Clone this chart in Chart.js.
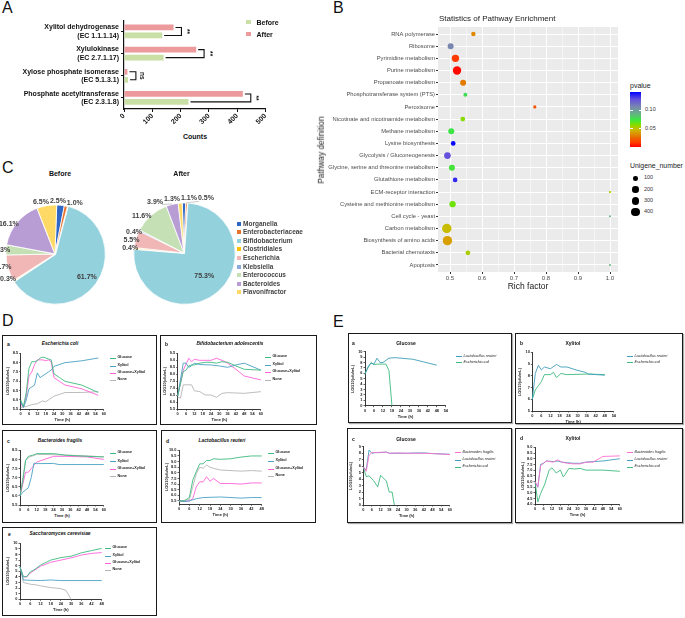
<!DOCTYPE html>
<html>
<head>
<meta charset="utf-8">
<script src="https://cdn.jsdelivr.net/npm/chart.js@4.4.1/dist/chart.umd.min.js"></script>
<style>
body { margin: 0; background: #fff; font-family: "Liberation Sans", Arial, sans-serif; }
#wrap { position: relative; width: 685px; height: 618px; overflow: hidden; background: #fff; }
.abs { position: absolute; white-space: nowrap; line-height: 1; }
canvas { position: absolute; }
</style>
</head>
<body>
<div id="wrap"></div>
<script>
// ---------- A: enzyme counts ----------
const enzymes = [['Xylitol dehydrogenase', '(EC 1.1.1.14)'], ['Xylulokinase', '(EC 2.7.1.17)'],
                 ['Xylose phosphate isomerase', '(EC 5.1.3.1)'], ['Phosphate acetyltransferase', '(EC 2.3.1.8)']]
const countsAfter = [175, 255, 12, 420]
const countsBefore = [135, 140, 14, 228]
const sigMarks = ['**', '**', 'ns', '**']
const countTicks = [0, 100, 200, 300, 400, 500]

// ---------- B: pathway enrichment ----------
const pathways = ['RNA polymerase', 'Ribosome', 'Pyrimidine metabolism', 'Purine metabolism', 'Propanoate metabolism',
  'Phosphotransferase system (PTS)', 'Peroxisome', 'Nicotinate and nicotinamide metabolism', 'Methane metabolism',
  'Lysine biosynthesis', 'Glycolysis / Gluconeogenesis', 'Glycine, serine and threonine metabolism',
  'Glutathione metabolism', 'ECM-receptor interaction', 'Cysteine and methionine metabolism', 'Cell cycle - yeast',
  'Carbon metabolism', 'Biosynthesis of amino acids', 'Bacterial chemotaxis', 'Apoptosis']
const richFactor = [0.573, 0.502, 0.517, 0.522, 0.541, 0.548, 0.765, 0.540, 0.504, 0.510,
                    0.492, 0.506, 0.516, 1.0, 0.508, 1.0, 0.490, 0.492, 0.556, 1.0]
const pValue = [0.033, 0.11, 0.012, 0.002, 0.03, 0.078, 0.02, 0.06, 0.075, 0.148,
                0.13, 0.073, 0.14, 0.055, 0.064, 0.09, 0.048, 0.04, 0.055, 0.09]
const unigeneNum = [86, 176, 281, 373, 176, 70, 45, 101, 176, 101, 225, 176, 101, 21, 196, 17, 477, 471, 101, 17]
const sizeLegend = [100, 200, 300, 400]
const pTicks = [0.05, 0.10]

// ---------- C: genus composition (%) ----------
const genera = ['Morganella', 'Enterobacteriaceae', 'Bifidobacterium', 'Clostridiales', 'Escherichia',
                'Klebsiella', 'Enterococcus', 'Bacteroides', 'Flavonifractor']
const pctBefore = [2.5, 1.0, 61.7, 0.3, 8.7, 0, 3.3, 16.1, 6.5]
const pctAfter = [1.1, 0.5, 75.3, 0.4, 5.5, 0.4, 11.6, 3.9, 1.3]

// ---------- D: monocultures, [time h, LOG10 cfu/mL] ----------
const dSeries = ['Glucose', 'Xylitol', 'Glucose+Xylitol', 'None']
const ecGlu = [[0,6.0],[2,5.65],[4,6.4],[6,7.7],[8,8.05],[10,8.05],[12,8.1],[14,8.25],[16,8.3],[18,8.25],[20,8.2],[22,8.15],[24,7.4],[28,7.2],[32,7.0],[44,6.8],[56,6.4]]
const ecXyl = [[0,5.9],[2,5.6],[4,6.0],[6,6.6],[8,6.7],[10,6.8],[12,7.45],[14,7.2],[16,7.3],[18,7.4],[20,7.5],[22,7.6],[24,7.8],[32,8.0],[44,8.1],[56,8.25]]
const ecGX = [[0,5.8],[2,5.6],[4,6.2],[6,7.3],[8,7.5],[10,7.9],[12,8.15],[14,8.15],[16,8.15],[18,8.1],[20,8.15],[22,8.05],[24,7.2],[28,7.0],[32,6.8],[44,6.6],[56,6.25]]
const ecNone = [[0,5.6],[4,5.65],[8,5.75],[12,5.8],[16,5.95],[18,5.9],[20,6.0],[24,6.2],[28,6.3],[32,6.4],[44,6.4],[56,6.45]]

const bfGlu = [[0,6.45],[4,8.2],[6,8.3],[8,8.6],[10,8.67],[12,8.67],[16,8.8],[20,8.86],[24,8.86],[28,8.8],[32,8.9],[36,8.86],[42,8.6],[48,8.36],[60,8.3]]
const bfXyl = [[0,6.45],[4,8.8],[6,8.8],[8,8.5],[10,8.6],[12,8.8],[16,8.7],[24,8.67],[30,8.6],[36,8.5],[42,8.67],[48,8.8],[60,8.3]]
const bfGX = [[0,6.45],[4,8.3],[8,9.15],[10,8.9],[12,9.07],[16,9.0],[24,9.0],[28,9.15],[32,9.0],[36,8.8],[42,8.36],[48,7.88],[60,7.6]]
const bfNone = [[0,6.35],[2,6.3],[4,7.25],[6,7.25],[10,7.25],[12,6.83],[16,6.76],[20,6.52],[24,6.52],[28,6.36],[32,6.64],[36,6.69],[48,6.64],[60,6.76]]

const frGlu = [[0,6.0],[2,6.8],[4,7.95],[6,8.17],[9,8.23],[12,8.32],[24,8.32],[33,8.23],[48,8.17],[60,8.14]]
const frXyl = [[0,6.0],[2,6.2],[6,6.45],[8,7.0],[10,7.8],[12,7.77],[24,7.78],[28,7.72],[60,7.72]]
const frGX = [[0,6.0],[4,7.3],[6,7.3],[8,7.5],[12,7.86],[24,8.17],[33,8.17],[48,8.14],[60,8.0]]
const frNone = [[0,6.0],[4,7.95],[7,8.14],[12,8.28],[24,8.26],[48,8.2],[60,8.14]]

const reGlu = [[0,5.5],[3,5.5],[6,5.8],[8,7.35],[10,8.1],[12,8.8],[14,8.8],[16,9.1],[18,9.1],[20,9.25],[24,9.2],[30,9.25],[36,9.4],[42,9.5],[48,9.5]]
const reXyl = [[0,5.5],[3,5.45],[6,5.5],[10,5.7],[14,5.8],[24,5.85],[36,5.75],[42,5.8],[48,5.8]]
const reGX = [[0,5.5],[3,5.45],[6,5.5],[8,5.7],[10,6.75],[12,7.2],[14,7.2],[16,7.65],[18,7.25],[20,7.5],[24,7.05],[30,7.05],[36,7.0],[42,7.1],[48,7.1]]
const reNone = [[0,5.5],[6,5.6],[8,6.75],[10,7.9],[12,8.5],[14,8.4],[16,8.7],[18,8.5],[20,8.4],[24,8.25],[36,8.15],[42,8.2],[48,8.15]]

const scGlu = [[0,5.8],[2,4.05],[4,4.05],[6,4.9],[8,5.2],[12,6.1],[18,7.0],[24,7.45],[30,7.7],[36,8.3],[42,8.7],[48,9.1]]
const scXyl = [[0,5.8],[2,3.45],[6,3.4],[12,3.35],[18,3.45],[24,3.35],[48,3.35]]
const scGX = [[0,5.8],[2,4.0],[4,4.0],[6,4.7],[12,5.9],[18,6.6],[24,7.0],[30,7.4],[36,7.9],[42,8.2],[48,8.35]]
const scNone = [[0,5.8],[2,3.0],[6,2.7],[10,2.55],[12,2.4],[18,2.1],[24,1.9],[27,1.6],[30,0]]

// ---------- E: co-cultures ----------
const gaReuteri = [[0,5.8],[2,7.2],[4,7.9],[6,7.7],[8,8.8],[10,8.0],[12,8.0],[14,8.4],[16,8.8],[20,8.9],[24,8.8],[32,8.6],[48,7.5]]
const gaEcoli = [[0,6.0],[2,7.0],[4,8.0],[6,7.6],[8,7.7],[10,7.7],[12,7.7],[14,7.7],[16,6.5],[18,0]]
const xbReuteri = [[0,6.0],[2,8.2],[4,8.9],[6,8.5],[8,8.75],[12,8.6],[16,8.97],[19,8.75],[23,8.75],[29,8.5],[35,8.3],[37,8.15],[48,8.05]]
const xbEcoli = [[0,6.0],[2,6.8],[4,7.15],[6,7.5],[8,8.1],[12,8.1],[14,8.3],[16,7.85],[19,8.2],[23,8.1],[37,8.15],[48,8.1]]
const gcFragilis = [[0,5.9],[2,5.2],[4,7.7],[6,8.1],[8,8.1],[12,8.15],[16,8.15],[18,8.0],[24,8.05],[30,8.0],[36,8.0],[42,8.0],[48,7.95],[60,7.8]]
const gcReuteri = [[0,5.9],[2,5.4],[4,8.5],[6,8.0],[8,8.1],[12,8.1],[16,8.2],[18,8.0],[24,8.0],[30,8.0],[36,8.05],[42,8.05],[48,7.95],[60,7.85]]
const gcEcoli = [[0,5.9],[2,4.4],[4,4.5],[7,3.8],[10,2.8],[12,4.6],[16,3.7],[18,2.0],[20,2.0],[21.5,0]]
const xdFragilis = [[0,6.0],[2,5.5],[4,7.4],[6,7.6],[8,7.8],[13,7.7],[16,7.9],[19,7.7],[23,7.6],[27,7.55],[32,7.55],[36,7.7],[41,7.7],[48,8.2],[60,8.25]]
const xdReuteri = [[0,6.0],[2,5.5],[4,7.5],[6,7.6],[8,7.8],[13,7.75],[16,7.8],[19,7.7],[23,7.65],[27,7.6],[32,7.6],[36,7.7],[41,7.75],[48,7.8],[60,8.0]]
const xdEcoli = [[0,6.0],[2,4.2],[4,4.95],[7,5.8],[10,7.0],[12,7.2],[15,6.75],[18,7.0],[20,6.4],[21,6.55],[24,7.15],[28,7.1],[32,7.15],[36,7.0],[41,7.0],[48,7.0],[60,6.9]]

// ---------- helpers ----------
const wrap = document.getElementById('wrap')
const FONT = '"Liberation Sans", Arial, sans-serif'

function txt(s, x, y, css, al) {
  const d = document.createElement('div')
  d.className = 'abs'
  d.textContent = s
  d.style.cssText += css
  d.style.left = x + 'px'
  d.style.top = y + 'px'
  d.style.transform = `translate(${al == 'c' ? '-50%' : al == 'r' ? '-100%' : '0'},-50%)`
  wrap.appendChild(d)
  return d
}
function rect(x, y, w, h, css) {
  const d = document.createElement('div')
  d.style.cssText = `position:absolute;left:${x}px;top:${y}px;width:${w}px;height:${h}px;` + css
  wrap.appendChild(d)
  return d
}
function addCanvas(x, y, w, h) {
  const c = document.createElement('canvas')
  c.width = w; c.height = h
  c.style.left = x + 'px'; c.style.top = y + 'px'
  wrap.appendChild(c)
  return c
}
// canvas around a wanted plot rectangle
function frame(g, padL, padT, padR, padB) {
  const cl = Math.floor(g.l - padL), ct = Math.floor(g.t - padT)
  const cw = Math.ceil(g.r + padR) - cl, ch = Math.ceil(g.b + padB) - ct
  return {cv: addCanvas(cl, ct, cw, ch), yw: g.l - cl, top: g.t - ct, right: cl + cw - g.r, xh: ct + ch - g.b}
}
const base = {animation: false, responsive: false, events: [],
              plugins: {legend: {display: false}, tooltip: {enabled: false}}}
const pairs = arr => arr.map(p => ({x: p[0], y: p[1]}))

// ---------- panel letters ----------
;[['A', 2, 8], ['B', 333, 8], ['C', 2, 168], ['D', 2, 321], ['E', 333, 322]].forEach(l =>
  txt(l[0], l[1], l[2], 'font-size:16px;color:#111;', 'l'))

// ---------- A ----------
{
  const g = {l: 124, t: 15, r: 265.5, b: 109}
  const f = frame(g, 124, 5, 14, 22)
  const brackets = {
    id: 'brackets',
    afterDatasetsDraw(chart) {
      const c = chart.ctx, xs = chart.scales.x
      const ma = chart.getDatasetMeta(0), mb = chart.getDatasetMeta(1)
      c.save()
      c.strokeStyle = '#111'; c.lineWidth = 1.1
      enzymes.forEach((e, i) => {
        const ya = ma.data[i].y, yb = mb.data[i].y
        const xa = xs.getPixelForValue(countsAfter[i]) + 2, xb = xs.getPixelForValue(countsBefore[i]) + 2
        const xk = xs.getPixelForValue(Math.max(countsAfter[i], countsBefore[i]) + 28)
        c.beginPath(); c.moveTo(xa, ya); c.lineTo(xk, ya); c.lineTo(xk, yb); c.lineTo(xb, yb); c.stroke()
        c.save()
        c.translate(xk + 5.5, (ya + yb) / 2); c.rotate(Math.PI / 2)
        c.fillStyle = '#111'; c.font = 'bold 6.5px ' + FONT; c.textAlign = 'center'; c.textBaseline = 'middle'
        c.fillText(sigMarks[i], 0, 0)
        c.restore()
      })
      c.restore()
    }
  }
  new Chart(f.cv, {
    type: 'bar',
    data: {
      labels: enzymes,
      datasets: [
        {label: 'After', data: countsAfter, backgroundColor: '#ec9a9b', categoryPercentage: 0.72, barPercentage: 0.72},
        {label: 'Before', data: countsBefore, backgroundColor: '#cadfa6', categoryPercentage: 0.72, barPercentage: 0.72}
      ]
    },
    options: {
      ...base, indexAxis: 'y',
      layout: {padding: {top: f.top, right: f.right, left: 0, bottom: 0}},
      scales: {
        x: {min: 0, max: 500, afterFit: s => { s.height = f.xh },
            afterBuildTicks: s => { s.ticks = countTicks.map(v => ({value: v})) },
            ticks: {font: {family: FONT, size: 7, weight: 'bold'}, color: '#111', minRotation: 45, maxRotation: 45, padding: 0, autoSkip: false},
            grid: {drawOnChartArea: false, tickLength: 3, color: '#111'}, border: {color: '#111', width: 1.2}},
        y: {afterFit: s => { s.width = f.yw },
            ticks: {font: {family: FONT, size: 7, weight: 'bold'}, color: '#111', padding: 2},
            grid: {drawOnChartArea: false, tickLength: 3, color: '#111', offset: false}, border: {color: '#111', width: 1.2}}
      }
    },
    plugins: [brackets]
  })
  txt('Counts', 195, 136, 'font-size:7px;font-weight:bold;color:#111;', 'c')
  rect(246, 19.5, 5, 4, 'background:#cadfa6;')
  txt('Before', 256.5, 21.5, 'font-size:7px;font-weight:bold;color:#111;', 'l')
  rect(246, 32.3, 5, 4, 'background:#ec9a9b;')
  txt('After', 256.5, 34.3, 'font-size:7px;font-weight:bold;color:#111;', 'l')
}

// ---------- B ----------
const pStops = [[0, [255, 0, 0]], [0.012, [255, 60, 0]], [0.022, [240, 90, 0]], [0.032, [225, 130, 0]],
  [0.04, [215, 160, 0]], [0.048, [200, 188, 0]], [0.055, [170, 205, 0]], [0.062, [120, 225, 0]],
  [0.075, [60, 228, 70]], [0.09, [100, 180, 130]], [0.11, [120, 135, 175]], [0.13, [100, 80, 220]], [0.15, [0, 0, 255]]]
function pColor(p) {
  for (let i = 1; i < pStops.length; i++) {
    if (p <= pStops[i][0]) {
      const [p0, c0] = pStops[i - 1], [p1, c1] = pStops[i], t = (p - p0) / (p1 - p0)
      return `rgb(${c0.map((v, k) => Math.round(v + (c1[k] - v) * t)).join(',')})`
    }
  }
  return 'rgb(0,0,255)'
}
const bubbleR = n => 0.5 + 4.3 * Math.sqrt(Math.max(n - 10, 0) / 490)
{
  const g = {l: 438, t: 27, r: 618, b: 272}
  const f = frame(g, 138, 5, 12, 10)
  const panelBg = {
    id: 'panelBg',
    beforeDraw(chart) {
      const a = chart.chartArea
      chart.ctx.save(); chart.ctx.fillStyle = '#ebebeb'; chart.ctx.fillRect(a.left, a.top, a.width, a.height); chart.ctx.restore()
    }
  }
  const major = v => Math.abs(v * 10 - Math.round(v * 10)) < 1e-6
  new Chart(f.cv, {
    type: 'bubble',
    data: {datasets: [{
      data: richFactor.map((x, i) => ({x: x, y: i, r: bubbleR(unigeneNum[i])})),
      backgroundColor: pValue.map(pColor), borderWidth: 0, clip: false
    }]},
    options: {
      ...base,
      layout: {padding: {top: f.top, right: f.right, left: 0, bottom: 0}},
      scales: {
        x: {type: 'linear', min: 0.4625, max: 1.025, afterFit: s => { s.height = f.xh },
            ticks: {stepSize: 0.05, includeBounds: false, autoSkip: false, maxRotation: 0, padding: 1,
                    callback: v => major(v) ? v.toFixed(1) : '', font: {family: FONT, size: 6}, color: '#4d4d4d'},
            grid: {color: '#fff', lineWidth: c => major(c.tick.value) ? 1 : 0.5,
                   tickColor: c => major(c.tick.value) ? '#333' : 'rgba(0,0,0,0)', tickLength: 2},
            border: {display: false}},
        y: {type: 'linear', reverse: true, min: -0.58, max: 19.58, afterFit: s => { s.width = f.yw },
            ticks: {stepSize: 1, includeBounds: false, autoSkip: false, padding: 1,
                    callback: v => pathways[v] ?? '', font: {family: FONT, size: 5.8}, color: '#4d4d4d'},
            grid: {color: '#fff', lineWidth: 1, tickColor: '#333', tickLength: 2},
            border: {display: false}}
      }
    },
    plugins: [panelBg]
  })
  txt('Statistics of Pathway Enrichment', 439, 19, 'font-size:8px;color:#1a1a1a;', 'l')
  txt('Rich factor', 528, 286, 'font-size:8.5px;color:#1a1a1a;', 'c')
  const yl = txt('Pathway definition', 321, 150, 'font-size:8.3px;color:#1a1a1a;', 'c')
  yl.style.transform = 'translate(-50%,-50%) rotate(-90deg)'
  // colour bar for p values
  const pMax = pStops[pStops.length - 1][0]
  const grad = pStops.map(s => `rgb(${s[1].join(',')}) ${(s[0] / pMax * 100).toFixed(1)}%`).join(',')
  const cbTop = 92, cbH = 55
  txt('pvalue', 630, 85, 'font-size:7px;color:#1a1a1a;', 'l')
  rect(630, cbTop, 11, cbH, `background:linear-gradient(to top, ${grad});`)
  pTicks.forEach(p => {
    const y = cbTop + cbH - p / pMax * cbH
    rect(630, y - 0.4, 2.5, 0.8, 'background:#fff;')
    rect(638.5, y - 0.4, 2.5, 0.8, 'background:#fff;')
    txt(p.toFixed(2), 645, y, 'font-size:5.5px;color:#333;', 'l')
  })
  txt('Unigene_number', 630, 166, 'font-size:6.9px;color:#1a1a1a;', 'l')
  sizeLegend.forEach((n, i) => {
    const r = bubbleR(n), y = 178.3 + i * 11.2
    rect(635.5 - r, y - r, 2 * r, 2 * r, 'background:#000;border-radius:50%;')
    txt(String(n), 644, y, 'font-size:5.5px;color:#333;', 'l')
  })
}

// ---------- C ----------
const genusColors = ['#2f67c6', '#e8712c', '#93d1dd', '#ffc000', '#f1b7b7', '#8eaadc', '#c6e0b5', '#b89dd5', '#ffd966']
const pieLabels = {
  id: 'pieLabels',
  afterDatasetsDraw(chart, args, opts) {
    const c = chart.ctx, meta = chart.getDatasetMeta(0), vals = chart.data.datasets[0].data
    c.save()
    c.font = 'bold 7px ' + FONT
    const out = []
    meta.data.forEach((arc, i) => {
      if (!vals[i]) return
      const p = arc.getProps(['x', 'y', 'startAngle', 'endAngle', 'outerRadius'])
      const a = (p.startAngle + p.endAngle) / 2, ca = Math.cos(a), sa = Math.sin(a)
      const t = vals[i].toFixed(1) + '%', w = c.measureText(t).width
      if (vals[i] > 50) {
        const rr = p.outerRadius * opts.inside
        out.push({t, x: p.x + ca * rr, y: p.y + sa * rr, al: 'center', w, inside: true})
        return
      }
      const rr = p.outerRadius + 5 - 9 * Math.abs(ca)
      out.push({t, w, x: p.x + ca * rr, y: p.y + sa * rr, ex: p.x + ca * (p.outerRadius + 0.5), ey: p.y + sa * (p.outerRadius + 0.5),
                al: Math.abs(ca) < 0.3 ? 'center' : (ca < 0 ? 'right' : 'left')})
    })
    const box = o => {
      const x0 = o.al == 'center' ? o.x - o.w / 2 : o.al == 'right' ? o.x - o.w : o.x
      return [x0, o.y - 3.5, x0 + o.w, o.y + 3.5]
    }
    for (let it = 0; it < 30; it++) {
      for (let i = 0; i < out.length; i++) for (let j = i + 1; j < out.length; j++) {
        const A = out[i], B = out[j]
        if (A.inside || B.inside) continue
        const a = box(A), b = box(B)
        const ox = Math.min(a[2], b[2]) - Math.max(a[0], b[0]) + 1, oy = Math.min(a[3], b[3]) - Math.max(a[1], b[1]) + 1
        if (ox <= 0 || oy <= 0) continue
        if (A.al == 'center' && B.al == 'center') {
          const d = (A.x < B.x ? -1 : 1) * ox / 2
          A.x += d; B.x -= d
        } else {
          const d = (A.y < B.y ? -1 : 1) * oy / 2
          A.y += d; B.y -= d
        }
      }
    }
    c.fillStyle = '#404040'; c.strokeStyle = '#999'; c.lineWidth = 0.5; c.textBaseline = 'middle'
    out.forEach(o => {
      if (!o.inside && o.al == 'center') {
        const b = box(o), lx = Math.max(b[0] + 1, Math.min(o.ex, b[2] - 1)), ly = o.y + 3
        if (Math.hypot(lx - o.ex, ly - o.ey) > 2.5) { c.beginPath(); c.moveTo(o.ex, o.ey); c.lineTo(lx, ly); c.stroke() }
      }
      c.textAlign = o.al
      c.fillText(o.t, o.x, o.y)
    })
    c.restore()
  }
}
function pie(x, y, w, h, cx, cy, r, values, rot, offsets, inside) {
  const cv = addCanvas(x, y, w, h)
  const half = 50
  new Chart(cv, {
    type: 'pie',
    data: {labels: genera, datasets: [{data: values, backgroundColor: genusColors, borderColor: '#fff', borderWidth: 0.8, offset: offsets, clip: false}]},
    options: {...base, radius: r, rotation: rot,
              plugins: {...base.plugins, pieLabels: {inside: inside}},
              layout: {padding: {left: cx - half - x, right: x + w - cx - half, top: cy - half - y, bottom: y + h - cy - half}}},
    plugins: [pieLabels]
  })
}
pie(0, 190, 124, 128, 55, 254, 49, pctBefore, 2, [0, 0, 3, 0, 0, 0, 0, 1, 0], 0.8)
pie(120, 190, 124, 128, 184, 253, 50, pctAfter, -2, [0, 0, 3, 0, 0, 0, 0, 0, 0], 0.62)
txt('Before', 60, 173, 'font-size:7px;font-weight:bold;color:#111;', 'c')
txt('After', 181.5, 173, 'font-size:7px;font-weight:bold;color:#111;', 'c')
genera.forEach((gname, i) => {
  const y = 223.7 + i * 8.58
  rect(237, y - 2, 4, 4, 'background:' + genusColors[i] + ';')
  txt(gname, 243, y, 'font-size:6.5px;font-weight:bold;color:#444;', 'l')
})

// ---------- D and E: growth curves ----------
const dColors = ['#3dba7e', '#4aa2c4', '#ff62d8', '#b5b5b5']
const tickFont = {family: FONT, size: 3.9, weight: 'bold'}
function growth(g, series, colors) {
  const f = frame(g, 14, 3, 3, 8)
  const fmt = g.ystep < 1 ? (v => v.toFixed(1)) : (v => String(v))
  new Chart(f.cv, {
    type: 'line',
    data: {datasets: series.map((s, i) => ({data: pairs(s), borderColor: colors[i], borderWidth: 0.9, pointRadius: 0, tension: 0, fill: false, clip: 2}))},
    options: {
      ...base,
      layout: {padding: {top: f.top, right: f.right, left: 0, bottom: 0}},
      scales: {
        x: {type: 'linear', min: 0, max: g.xmax, afterFit: s => { s.height = f.xh },
            ticks: {stepSize: g.xstep, autoSkip: false, maxRotation: 0, padding: 1, font: tickFont, color: '#222'},
            grid: {drawOnChartArea: false, tickLength: 1.5, color: '#222', lineWidth: 0.7}, border: {color: '#222', width: 0.9}},
        y: {type: 'linear', min: g.ymin, max: g.ymax, afterFit: s => { s.width = f.yw },
            ticks: {stepSize: g.ystep, includeBounds: false, autoSkip: false, padding: 1, font: tickFont, color: '#222', callback: fmt},
            grid: {drawOnChartArea: false, tickLength: 1.5, color: '#222', lineWidth: 0.7}, border: {color: '#222', width: 0.9}}
      }
    }
  })
  txt('Time (h)', (g.l + g.r) / 2, g.b + 11, 'font-size:4px;font-weight:bold;color:#222;', 'c')
  const yl = txt('LOG10(cfu/mL)', g.l - 12.5, (g.t + g.b) / 2, 'font-size:3.9px;font-weight:bold;color:#222;', 'c')
  yl.style.transform = 'translate(-50%,-50%) rotate(-90deg)'
}
function legend(names, colors, x, ys, italic) {
  names.forEach((n, i) => {
    rect(x, ys[i] - 0.5, 5.5, 1, 'background:' + colors[i] + ';')
    txt(n, x + 7.5, ys[i], 'font-size:3.7px;color:#222;' + (italic ? 'font-style:italic;' : 'font-weight:bold;'), 'l')
  })
}
function panelHead(letter, lx, title, tx, y, italic) {
  txt(letter, lx, y, 'font-size:5px;font-weight:bold;color:#111;', 'l')
  txt(title, tx, y, 'font-size:' + (italic ? 4.8 : 5) + 'px;font-weight:bold;color:#111;' + (italic ? 'font-style:italic;' : ''), 'c')
}

// D boxes
;[[2, 335, 155, 90], [160, 335, 157, 90], [2, 430, 155, 93], [161, 430, 155, 93], [2, 527, 155, 89]].forEach(b =>
  rect(b[0], b[1], b[2], b[3], 'border:1.5px solid #1a1a1a;box-sizing:border-box;'))
panelHead('a', 7, 'Escherichia coli', 60, 344, true)
panelHead('b', 165, 'Bifidobacterium adolescentis', 230, 344, true)
panelHead('c', 7, 'Bacteroides fragilis', 60, 441, true)
panelHead('d', 166, 'Lactobacillus reuteri', 222, 441, true)
panelHead('e', 8, 'Saccharomyces cerevisiae', 60, 534, true)

growth({l: 20.7, t: 353.3, r: 104, b: 409.3, xmax: 60, xstep: 6, ymin: 5.5, ymax: 8.5, ystep: 0.5}, [ecGlu, ecXyl, ecGX, ecNone], dColors)
growth({l: 177.7, t: 353.3, r: 261, b: 409.3, xmax: 60, xstep: 6, ymin: 5.5, ymax: 9.5, ystep: 0.5}, [bfGlu, bfXyl, bfGX, bfNone], dColors)
growth({l: 20, t: 450, r: 104, b: 505, xmax: 60, xstep: 6, ymin: 5.5, ymax: 8.5, ystep: 0.5}, [frGlu, frXyl, frGX, frNone], dColors)
growth({l: 179, t: 450, r: 261.7, b: 504.3, xmax: 48, xstep: 6, ymin: 5.2, ymax: 10, ystep: 0.5}, [reGlu, reXyl, reGX, reNone], dColors)
growth({l: 20, t: 543.3, r: 101.7, b: 599.3, xmax: 48, xstep: 6, ymin: 0, ymax: 10, ystep: 1}, [scGlu, scXyl, scGX, scNone], dColors)
legend(dSeries, dColors, 110, [358, 366, 373, 380])
legend(dSeries, dColors, 265, [357.3, 365, 372.3, 380])
legend(dSeries, dColors, 110, [453.3, 461.7, 469.3, 476.7])
legend(dSeries, dColors, 268, [453.3, 461, 469, 476])
legend(dSeries, dColors, 105, [548.3, 556, 563.3, 570])

// E boxes
;[[348, 333, 164, 90], [515, 333, 168, 91], [347, 428, 165, 95], [515, 428, 168, 95]].forEach(b =>
  rect(b[0], b[1], b[2], b[3], 'border:1.5px solid #1a1a1a;box-sizing:border-box;box-shadow:1px 1px 1px #aaa;'))
panelHead('a', 352, 'Glucose', 406, 343, false)
panelHead('b', 520, 'Xylitol', 573, 343, false)
panelHead('c', 352, 'Glucose', 406, 439, false)
panelHead('d', 520, 'Xylitol', 573, 438, false)
const eColors2 = ['#3f9fba', '#3dba7e']
const eColors3 = ['#ff6fd0', '#3f9fba', '#3dba7e']
const eNames2 = ['Lactobacillus reuteri', 'Escherichia coli']
const eNames3 = ['Bacteroides fragilis', 'Lactobacillus reuteri', 'Escherichia coli']
growth({l: 365, t: 351.7, r: 446, b: 405.7, xmax: 54, xstep: 6, ymin: 0, ymax: 10, ystep: 1}, [gaReuteri, gaEcoli], eColors2)
growth({l: 532.3, t: 352.3, r: 614, b: 411, xmax: 54, xstep: 6, ymin: 5, ymax: 10, ystep: 1}, [xbReuteri, xbEcoli], eColors2)
growth({l: 363.3, t: 446.8, r: 450, b: 505, xmax: 60, xstep: 6, ymin: 0, ymax: 9, ystep: 1}, [gcFragilis, gcReuteri, gcEcoli], eColors3)
growth({l: 535, t: 447, r: 620, b: 504.3, xmax: 60, xstep: 6, ymin: 4, ymax: 9, ystep: 0.5}, [xdFragilis, xdReuteri, xdEcoli], eColors3)
legend(eNames2, eColors2, 456, [356.7, 362.7], true)
legend(eNames2, eColors2, 627, [356.7, 362.5], true)
legend(eNames3, eColors3, 455, [452.7, 460, 467.3], true)
legend(eNames3, eColors3, 627, [452.7, 460, 467.3], true)
</script>
</body>
</html>
